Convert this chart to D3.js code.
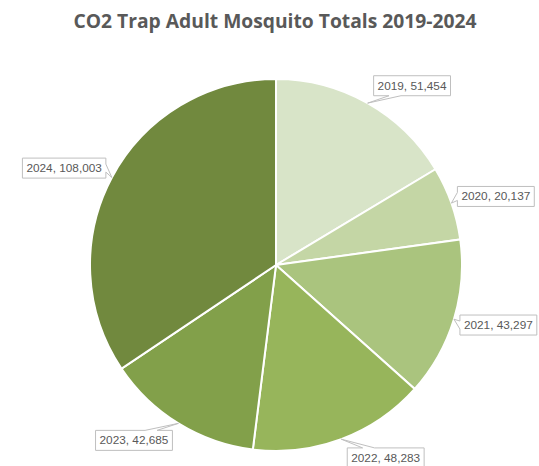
<!DOCTYPE html>
<html><head><meta charset="utf-8">
<script src="https://cdn.jsdelivr.net/npm/d3@7"></script>
<style>body{margin:0;background:#fff}svg{display:block}</style>
</head><body>
<svg id="c" width="539" height="466"></svg>
<script>
const years = ["2019","2020","2021","2022","2023","2024"];
const totals = [51454, 20137, 43297, 48283, 42685, 108003];
const colors = ["#D8E4C8","#C4D6A5","#AAC47E","#97B55B","#82A04A","#71893E"];
const title = "CO2 Trap Adult Mosquito Totals 2019-2024";

const W = 539, H = 466, cx = 276, cy = 265, R = 186;
const svg = d3.select("#c");
svg.append("rect").attr("width",W).attr("height",H).attr("fill","#fff");

const tt = svg.append("text").attr("x",275).attr("y",28).attr("text-anchor","middle")
  .attr("font-family","'Open Sans', sans-serif").attr("font-weight",700)
  .attr("font-size",19.5).attr("fill","#595959").text(title);
const ttw = tt.node().getComputedTextLength();
if (Math.abs(ttw-403) > 4) tt.attr("textLength",403).attr("lengthAdjust","spacingAndGlyphs");

const data = years.map((y,i)=>({year:y,value:totals[i],color:colors[i]}));
const pie = d3.pie().value(d=>d.value).sort(null);
const arcs = pie(data);
const arc = d3.arc().innerRadius(0).outerRadius(R);
const g = svg.append("g").attr("transform",`translate(${cx},${cy})`);
g.selectAll("path").data(arcs).join("path")
  .attr("d",arc).attr("fill",d=>d.data.color)
  .attr("stroke","#fff").attr("stroke-width",2);

const fmt = d3.format(",");
const lg = svg.append("g");
arcs.forEach(a=>{
  const m = (a.startAngle+a.endAngle)/2;
  const tx = cx + R*Math.sin(m), ty = cy - R*Math.cos(m);
  const label = `${a.data.year}, ${fmt(a.data.value)}`;
  const t = lg.append("text").attr("font-family","'Liberation Sans', Arial, sans-serif")
    .attr("font-size",11.8).attr("fill","#595959").text(label);
  const tw = t.node().getComputedTextLength();
  const w = tw + 8, h = 20;
  const sgn = Math.sin(m) >= 0 ? 1 : -1;
  const bcx = tx + sgn*(w/2+6), bcy = ty - Math.cos(m)*20;
  const x0 = bcx - w/2, x1 = bcx + w/2, y0 = bcy - h/2, y1 = bcy + h/2;
  let side;
  if (ty > y1) side = "bottom"; else if (ty < y0) side = "top";
  else side = tx < x0 ? "left" : "right";
  let p = `M${x0},${y0}`;
  const bw = 12;
  if (side==="top"){
    const b1 = tx < bcx ? x0 + w*0.2 : x1 - w*0.2 - bw;
    p += `L${b1},${y0}L${tx},${ty}L${b1+bw},${y0}`;
  }
  p += `L${x1},${y0}`;
  if (side==="right"){ p += `L${x1},${bcy-4}L${tx},${ty}L${x1},${bcy+4}`; }
  p += `L${x1},${y1}`;
  if (side==="bottom"){
    const b1 = tx < bcx ? x0 + w*0.2 : x1 - w*0.2 - bw;
    p += `L${b1+bw},${y1}L${tx},${ty}L${b1},${y1}`;
  }
  p += `L${x0},${y1}`;
  if (side==="left"){ p += `L${x0},${bcy+4}L${tx},${ty}L${x0},${bcy-4}`; }
  p += "Z";
  lg.insert("path","text").attr("d",p).attr("fill","#fff").attr("stroke","#BFBFBF").attr("stroke-width",1);
  t.attr("x",bcx).attr("y",bcy+4).attr("text-anchor","middle");
});
</script>
</body></html>
